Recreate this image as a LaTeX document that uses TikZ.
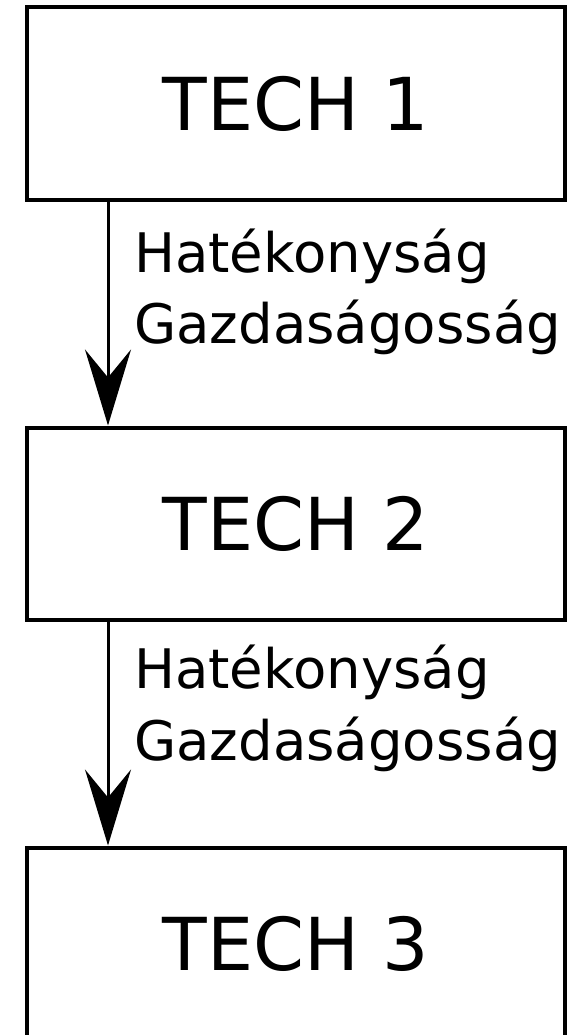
\documentclass[tikz,border=0pt]{standalone}
\usepackage{fontspec}
\setmainfont{DejaVu Sans}
\usetikzlibrary{arrows.meta}
\tikzset{
  techbox/.style={draw=black, line width=4pt, minimum width=538pt, minimum height=192pt,
    inner sep=0pt, font=\fontsize{73pt}{88pt}\selectfont},
  conn/.style={draw=black, line width=3pt,
    -{Stealth[length=76pt, width=46pt, inset=28pt]}},
  lbl/.style={anchor=base west, inner sep=0pt, font=\fontsize{54.5pt}{64pt}\selectfont}
}
\begin{document}
\begin{tikzpicture}[x=1pt,y=-1pt]
\clip (0,0) rectangle (574,1035);
\fill[white] (0,0) rectangle (574,1035);
\node[techbox] (b1) at (296,103.5) {TECH 1};
\node[techbox] (b2) at (296,523.5) {TECH 2};
\node[techbox] (b3) at (296,943.5) {TECH 3};
\draw[conn] ([xshift=83pt]b1.south west) -- ([xshift=83pt]b2.north west);
\draw[conn] ([xshift=83pt]b2.south west) -- ([xshift=83pt]b3.north west);
\node[lbl] (l1a) at (134,272) {Hatékonyság};
\node[lbl] (l1b) at (134,343) {Gazdaságosság};
\node[lbl] (l2a) at (134,688) {Hatékonyság};
\node[lbl] (l2b) at (134,760) {Gazdaságosság};
\end{tikzpicture}
\end{document}
